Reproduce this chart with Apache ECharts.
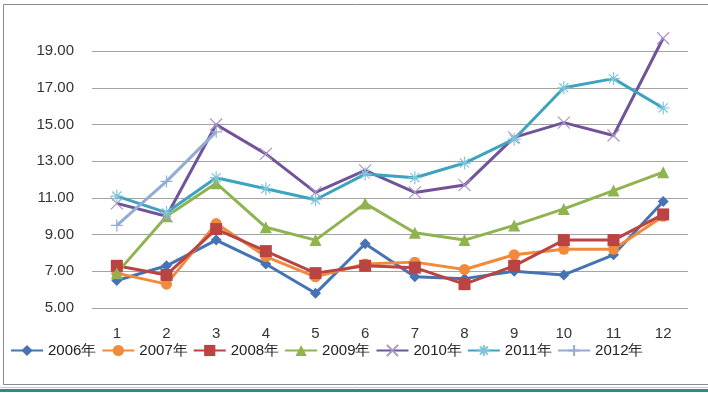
<!DOCTYPE html>
<html><head><meta charset="utf-8">
<script src="https://cdn.jsdelivr.net/npm/echarts@6/dist/echarts.min.js"></script>
<style>html,body{margin:0;padding:0;background:#fff}#c{width:708px;height:393px}</style>
</head><body><div id="c"></div>
<script>
var months = ['1','2','3','4','5','6','7','8','9','10','11','12'];
var yearNames = ['2006年','2007年','2008年','2009年','2010年','2011年','2012年'];
var y2006 = [6.5, 7.3, 8.7, 7.4, 5.8, 8.5, 6.7, 6.6, 7.0, 6.8, 7.9, 10.8];
var y2007 = [6.9, 6.3, 9.6, 7.8, 6.7, 7.4, 7.5, 7.1, 7.9, 8.2, 8.2, 10.0];
var y2008 = [7.3, 6.8, 9.3, 8.1, 6.9, 7.3, 7.2, 6.3, 7.3, 8.7, 8.7, 10.1];
var y2009 = [6.9, 10.0, 11.8, 9.4, 8.7, 10.7, 9.1, 8.7, 9.5, 10.4, 11.4, 12.4];
var y2010 = [10.7, 10.0, 15.0, 13.4, 11.3, 12.5, 11.3, 11.7, 14.3, 15.1, 14.4, 19.7];
var y2011 = [11.1, 10.2, 12.1, 11.5, 10.9, 12.3, 12.1, 12.9, 14.2, 17.0, 17.5, 15.9];
var y2012 = [9.5, 11.9, 14.6];
var yTicks = {min: 5, max: 20, interval: 2};

var XPATH = 'path://M0,0L10,10M10,0L0,10';
var ASTER = 'path://M5,0L5,10M0,5L10,5M1.5,1.5L8.5,8.5M8.5,1.5L1.5,8.5';
var PLUS = 'path://M5,0L5,10M0,5L10,5';

function mk(name, data, color, symbol, size, markerColor, strokeMarker) {
  var s = {
    name: name, type: 'line', data: data, symbol: symbol, symbolSize: size,
    showAllSymbol: true,
    lineStyle: {color: color, width: 3},
    itemStyle: strokeMarker ? {color: 'rgba(0,0,0,0)', borderColor: markerColor, borderWidth: 1.2}
                            : {color: color, borderColor: color, borderWidth: 0},
    emphasis: {disabled: true}
  };
  return s;
}

var chart = echarts.init(document.getElementById('c'), null, {renderer: 'canvas'});
var series = [
  mk(yearNames[0], y2006, '#4573B4', 'diamond', 11),
  mk(yearNames[1], y2007, '#F08A3C', 'circle', 11),
  mk(yearNames[2], y2008, '#B94441', 'rect', 12),
  mk(yearNames[3], y2009, '#8FB34E', 'triangle', 12),
  mk(yearNames[4], y2010, '#71539A', XPATH, 12, '#A996C8', true),
  mk(yearNames[5], y2011, '#3DA3BF', ASTER, 13, '#7FC6DA', true),
  mk(yearNames[6], y2012, '#93ACD6', PLUS, 12, '#93ACD6', true)
];
chart.setOption({
  animation: false,
  backgroundColor: '#fff',
  textStyle: {fontFamily: 'Liberation Sans, Arial, sans-serif'},
  graphic: [
    {type: 'rect', shape: {x: 3.5, y: 4.5, width: 706, height: 380}, style: {fill: 'none', stroke: '#8a8a8a', lineWidth: 1}, silent: true},
    {type: 'rect', shape: {x: 0, y: 387, width: 708, height: 1}, style: {fill: '#c8c8c8'}, silent: true},
    {type: 'rect', shape: {x: 0, y: 389, width: 708, height: 3}, style: {fill: '#2E8B88'}, silent: true}
  ],
  grid: {left: 92, right: 20, top: 32.75, bottom: 85},
  legend: {
    left: 5, top: 338, itemWidth: 32, itemHeight: 14, itemGap: 5,
    textStyle: {fontSize: 15, color: '#222'},
    data: yearNames
  },
  xAxis: {
    type: 'category', data: months, boundaryGap: true,
    axisLine: {show: false}, axisTick: {show: false},
    axisLabel: {margin: 18, fontSize: 15, color: '#333'}
  },
  yAxis: {
    type: 'value', min: yTicks.min, max: yTicks.max, interval: yTicks.interval,
    axisLine: {show: false}, axisTick: {show: false},
    axisLabel: {showMaxLabel: false, margin: 18, fontSize: 15, color: '#333',
      formatter: function (v) { return v.toFixed(2); }},
    splitLine: {show: true, showMaxLine: false, lineStyle: {color: '#a3a3a3', width: 1}}
  },
  series: series
});
</script></body></html>
